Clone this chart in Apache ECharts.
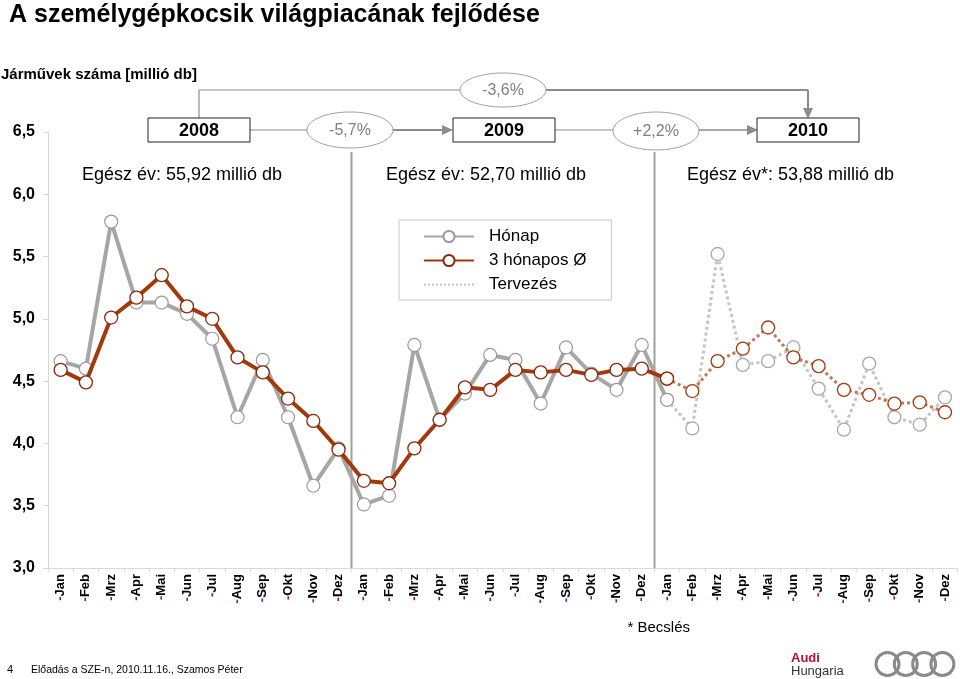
<!DOCTYPE html>
<html>
<head>
<meta charset="utf-8">
<script src="https://cdn.jsdelivr.net/npm/echarts@6/dist/echarts.min.js"></script>
<style>
html,body{margin:0;padding:0;background:#fff;}
#chart{width:960px;height:679px;}
</style>
</head>
<body>
<div id="chart"></div>
<script>
// ---- data ----
const months = ['Jan','Feb','Mrz','Apr','Mai','Jun','Jul','Aug','Sep','Okt','Nov','Dez'];
const yTicks = [3.0, 3.5, 4.0, 4.5, 5.0, 5.5, 6.0, 6.5];
// monthly sales (million units)
const honap2008 = [4.66, 4.60, 5.78, 5.13, 5.13, 5.04, 4.84, 4.21, 4.67, 4.21, 3.66, 3.96];
const honap2009 = [3.51, 3.58, 4.79, 4.19, 4.40, 4.71, 4.67, 4.32, 4.77, 4.56, 4.43, 4.79];
const honap2010Plan = [4.35, 4.12, 5.52, 4.63, 4.66, 4.77, 4.44, 4.11, 4.64, 4.21, 4.15, 4.37];
// 3-month moving average
const avg2008 = [4.59, 4.49, 5.01, 5.17, 5.35, 5.10, 5.00, 4.69, 4.57, 4.36, 4.18, 3.95];
const avg2009 = [3.70, 3.68, 3.96, 4.19, 4.45, 4.43, 4.59, 4.57, 4.59, 4.55, 4.59, 4.60];
const avg2010Plan = [4.52, 4.42, 4.66, 4.76, 4.93, 4.69, 4.62, 4.43, 4.39, 4.32, 4.33, 4.25];
const yearLabels = ['2008', '2009', '2010'];
const changeLabels = ['-5,7%', '+2,2%', '-3,6%'];
const yearTotals = ['Egész év: 55,92 millió db', 'Egész év: 52,70 millió db', 'Egész év*: 53,88 millió db'];

// ---- build ----
const categories = [].concat(months, months, months);
const pad = n => Array(n).fill(null);
const honapActual = honap2008.concat(honap2009, [honap2010Plan[0]], pad(11));
const honapPlan = pad(24).concat(honap2010Plan);
const avgActual = avg2008.concat(avg2009, [avg2010Plan[0]], pad(11));
const avgPlan = pad(24).concat(avg2010Plan);

const GRAY = '#a6a6a6';
const RED = '#a2390c';
const FONT = '"Liberation Sans", Arial, sans-serif';

const chart = echarts.init(document.getElementById('chart'), null, {renderer: 'canvas'});

const option = {
  animation: false,
  backgroundColor: '#fff',
  textStyle: {fontFamily: FONT},
  title: {
    text: 'A személygépkocsik világpiacának fejlődése',
    left: 4, top: -2,
    textStyle: {fontSize: 25, fontWeight: 'bold', color: '#000', fontFamily: FONT}
  },
  legend: {
    orient: 'vertical',
    left: 399, top: 220,
    padding: [8, 25, 7, 24],
    borderColor: '#c8c8c8', borderWidth: 1,
    itemWidth: 50, itemHeight: 14, itemGap: 7,
    data: ['Hónap', '3 hónapos Ø', 'Tervezés'],
    textStyle: {fontSize: 17, color: '#000', fontFamily: FONT, padding: [0, 0, 0, 10]}
  },
  grid: {left: 48, right: 2.4, top: 131.9, bottom: 111},
  xAxis: {
    type: 'category',
    data: categories,
    boundaryGap: true,
    axisLine: {lineStyle: {color: '#d9d9d9', width: 1}},
    axisTick: {show: true, length: 4, lineStyle: {color: '#d9d9d9'}},
    axisLabel: {
      rotate: 90, margin: 6, interval: 0,
      formatter: v => '{d|-}{m|' + v + '}',
      rich: {
        d: {fontSize: 13, fontWeight: 'bold', color: '#a0102a', fontFamily: FONT},
        m: {fontSize: 13, fontWeight: 'bold', color: '#000', fontFamily: FONT}
      }
    },
    splitLine: {show: false}
  },
  yAxis: {
    type: 'value',
    min: yTicks[0], max: yTicks[yTicks.length - 1], interval: 0.5,
    axisLine: {show: true, lineStyle: {color: '#d9d9d9', width: 1}},
    axisTick: {show: true, length: 5, lineStyle: {color: '#d9d9d9'}},
    splitLine: {show: false},
    axisLabel: {
      margin: 13,
      fontSize: 16, fontWeight: 'bold', color: '#000', fontFamily: FONT,
      formatter: v => v.toFixed(1).replace('.', ',')
    }
  },
  series: [
    {
      name: 'Hónap terv', type: 'line', data: honapPlan, z: 2,
      symbol: 'circle', symbolSize: 13,
      lineStyle: {color: '#c4c4c4', width: 3, type: 'dotted'},
      itemStyle: {color: '#fff', borderColor: '#a8a8a8', borderWidth: 1.3},
      emphasis: {disabled: true}
    },
    {
      name: '3 hónapos terv', type: 'line', data: avgPlan, z: 3,
      symbol: 'circle', symbolSize: 13,
      lineStyle: {color: '#c07a55', width: 3, type: 'dotted'},
      itemStyle: {color: '#fff', borderColor: '#a2390c', borderWidth: 1.3},
      emphasis: {disabled: true}
    },
    {
      name: 'Hónap', type: 'line', data: honapActual, z: 4,
      symbol: 'circle', symbolSize: 13,
      lineStyle: {color: GRAY, width: 4},
      itemStyle: {color: '#fff', borderColor: '#9a9a9a', borderWidth: 1.2},
      emphasis: {disabled: true}
    },
    {
      name: '3 hónapos Ø', type: 'line', data: avgActual, z: 5,
      symbol: 'circle', symbolSize: 13,
      lineStyle: {color: RED, width: 4},
      itemStyle: {color: '#fff', borderColor: '#8a2a08', borderWidth: 1.3},
      emphasis: {disabled: true}
    },
    {
      name: 'Tervezés', type: 'line', data: [], symbol: 'none',
      lineStyle: {color: '#c4c4c4', width: 4, type: 'dotted'},
      itemStyle: {color: '#c4c4c4', opacity: 0}
    }
  ]
};
chart.setOption(option);

// ---- annotations ----
const C = '#8c8c8c';
const g = [];
function box(x, y, w, h, label) {
  g.push({type: 'rect', shape: {x: x, y: y, width: w, height: h}, style: {fill: '#fff', stroke: '#222', lineWidth: 1}, z: 10});
  g.push({type: 'text', x: x + w / 2, y: y + h / 2 + 1, style: {text: label, fill: '#000', font: 'bold 18px ' + FONT, textAlign: 'center', textVerticalAlign: 'middle'}, z: 11});
}
function ell(cx, cy, rx, ry, label) {
  g.push({type: 'ellipse', shape: {cx: cx, cy: cy, rx: rx, ry: ry}, style: {fill: '#fff', stroke: '#a0a0a0', lineWidth: 1}, z: 10});
  g.push({type: 'text', x: cx, y: cy + 1, style: {text: label, fill: '#7f7f7f', font: '16px ' + FONT, textAlign: 'center', textVerticalAlign: 'middle'}, z: 11});
}
function line(x1, y1, x2, y2, w) {
  g.push({type: 'line', shape: {x1: x1, y1: y1, x2: x2, y2: y2}, style: {stroke: C, lineWidth: w}, z: 9});
}
function arrowRight(x, y) {
  g.push({type: 'polygon', shape: {points: [[x, y], [x - 11, y - 5], [x - 11, y + 5]]}, style: {fill: C}, z: 10});
}
function arrowDown(x, y) {
  g.push({type: 'polygon', shape: {points: [[x, y], [x - 5, y - 11], [x + 5, y - 11]]}, style: {fill: C}, z: 10});
}
// lower connectors
line(250, 130, 308, 130, 1.2);
line(392, 130, 445, 130, 2.2);
arrowRight(453, 130);
line(554, 130, 614, 130, 1.2);
line(699, 130, 750, 130, 1.5);
arrowRight(758, 130);
// top connector
line(199, 118, 199, 90, 1.2);
line(199, 90, 461, 90, 1.2);
line(545, 90, 808, 90, 2);
line(808, 90, 808, 110, 2);
arrowDown(808, 119);
box(148, 118, 102, 24, yearLabels[0]);
box(453, 118, 102, 24, yearLabels[1]);
box(757, 118, 102, 24, yearLabels[2]);
ell(350, 130, 43, 18, changeLabels[0]);
ell(656, 131, 43, 19, changeLabels[1]);
ell(503, 90, 43, 17, changeLabels[2]);

// axis subtitle
g.push({type: 'text', x: 1, y: 75, style: {text: 'Járművek száma [millió db]', fill: '#000', font: 'bold 15px ' + FONT, textVerticalAlign: 'middle'}});
// year totals
const totalX = [82, 386, 687];
yearTotals.forEach((t, i) => g.push({type: 'text', x: totalX[i], y: 175, style: {text: t, fill: '#000', font: '18px ' + FONT, textVerticalAlign: 'middle'}}));

// year separators computed from the category axis
const yTop = 152;
const yBottom = chart.convertToPixel({yAxisIndex: 0}, yTicks[0]);
[12, 24].forEach(idx => {
  const xa = chart.convertToPixel({xAxisIndex: 0}, idx - 1);
  const xb = chart.convertToPixel({xAxisIndex: 0}, idx);
  const xs = Math.round((xa + xb) / 2) + 0.5;
  g.push({type: 'line', shape: {x1: xs, y1: yTop, x2: xs, y2: yBottom}, style: {stroke: '#a0a0a0', lineWidth: 2}, z: 1});
});

// footer
g.push({type: 'text', x: 690, y: 628, style: {text: '* Becslés', fill: '#000', font: '15px ' + FONT, textAlign: 'right', textVerticalAlign: 'middle'}});
g.push({type: 'text', x: 7, y: 670, style: {text: '4', fill: '#000', font: '11px ' + FONT, textVerticalAlign: 'middle'}});
g.push({type: 'text', x: 31, y: 670, style: {text: 'Előadás a SZE-n, 2010.11.16., Szamos Péter', fill: '#000', font: '10.5px ' + FONT, textVerticalAlign: 'middle'}});
g.push({type: 'text', x: 791, y: 658, style: {text: 'Audi', fill: '#b0103c', font: 'bold 13px ' + FONT, textVerticalAlign: 'middle'}});
g.push({type: 'text', x: 791, y: 671, style: {text: 'Hungaria', fill: '#333', font: '13px ' + FONT, textVerticalAlign: 'middle'}});
[887.5, 905.8, 924.1, 942.4].forEach(cx => {
  g.push({type: 'circle', shape: {cx: cx, cy: 664, r: 11.5}, style: {fill: 'none', stroke: '#8a8a8a', lineWidth: 3}});
});

chart.setOption({graphic: g});
</script>
</body>
</html>
